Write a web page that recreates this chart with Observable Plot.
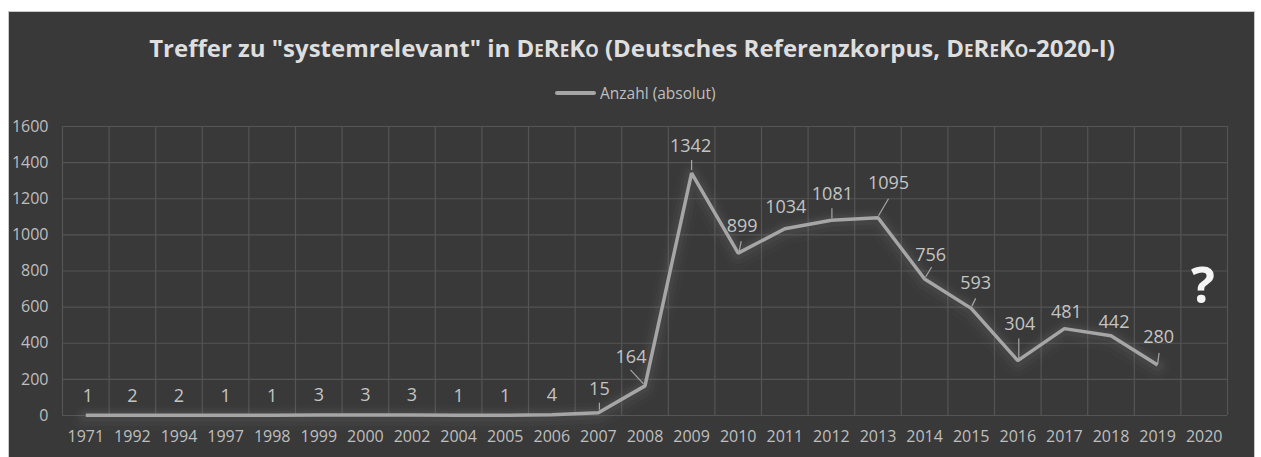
<!DOCTYPE html>
<html>
<head>
<meta charset="utf-8">
<script src="https://cdn.jsdelivr.net/npm/d3@7"></script>
<script src="https://cdn.jsdelivr.net/npm/@observablehq/plot@0.6"></script>
<style>
  html, body { margin: 0; padding: 0; background: #ffffff; }
  #wrap { position: relative; width: 1261px; height: 457px; overflow: hidden; background: #ffffff; font-family: "Open Sans", sans-serif; }
  #panel { position: absolute; left: 8px; top: 11px; width: 1247px; height: 470px; background: #393939; border: 1px solid #c9c9c9; box-sizing: border-box; }
  #title { position: absolute; left: 0; top: 31px; width: 1264px; text-align: center; font-size: 24px; font-weight: 700; color: #dedede; white-space: nowrap; }
  #title .sc { font-variant: small-caps; }
  #legend { position: absolute; left: 555px; top: 83px; height: 20px; display: flex; align-items: center; font-size: 15.5px; color: #bfbfbf; }
  #legend .swatch { width: 41px; height: 4px; background: #a6a6a6; border-radius: 2px; margin-right: 4px; }
  #q { position: absolute; left: 1191px; top: 259px; font-size: 50px; font-weight: 700; color: #f4f4f4; line-height: 1; }
  #chart { position: absolute; left: 0; top: 0; }
</style>
</head>
<body>
<div id="wrap">
  <div id="panel"></div>
  <div id="chart"></div>
  <div id="title">Treffer zu "systemrelevant" in <span class="sc">DeReKo</span> (Deutsches Referenzkorpus, <span class="sc">DeReKo</span>-2020-I)</div>
  <div id="legend"><div class="swatch"></div><span>Anzahl (absolut)</span></div>
  <div id="q">?</div>
</div>
<script>
// ---- data ----
const years = ["1971","1992","1994","1997","1998","1999","2000","2002","2004","2005","2006","2007","2008","2009","2010","2011","2012","2013","2014","2015","2016","2017","2018","2019","2020"];
const counts = [1,2,2,1,1,3,3,3,1,1,4,15,164,1342,899,1034,1081,1095,756,593,304,481,442,280,null];
const yTicks = [0,200,400,600,800,1000,1200,1400,1600];
const seriesName = "Anzahl (absolut)";

// ---- label layout (pixel offsets of each data label from its point: [dx, up]) ----
const labelOffset = [
  [2,19],[0,19],[0,19],[0,19],[0,19],[0,20],[0,20],[0,20],[0,19],[0,19],[0,20],[1,24],
  [-14,29],[-1,27],[4,27],[1,21],[1,26],[10.5,34],[6,24],[4.5,25],[2,36],[2,16],[3,13],[1,28]
];
// leader lines: [index, dx1, up1, dx2, up2] in pixels relative to the point
const leaders = [
  [11,1,3,1,10],[12,-1.5,2,-14.5,16],[13,0,3,0,13],[14,1,2,3,12],[16,0.5,2,0.5,12],
  [17,0.5,2,10.5,19],[18,1,2,7,12],[19,0.5,2,4.5,10],[20,1,2,1,22],[23,0,1,1.5,12]
];

// ---- geometry ----
const W = 1261, H = 457;
const mL = 62, mR = 34, mT = 126, mB = 42;
const pxPerX = (W - mL - mR) / years.length;
const pxPerY = (H - mT - mB) / 1600;
const ux = px => px / pxPerX;
const uy = px => px / pxPerY;

const pts = counts.map((v, i) => ({i, year: years[i], v})).filter(d => d.v != null);
const labels = pts.map(d => ({
  i: d.i + ux(labelOffset[d.i][0]),
  y: d.v + uy(labelOffset[d.i][1]),
  text: String(d.v)
}));
const leaderData = leaders.map(([i, dx1, u1, dx2, u2]) => ({
  x1: i + ux(dx1), y1: counts[i] + uy(u1), x2: i + ux(dx2), y2: counts[i] + uy(u2)
}));
const vGrid = d3.range(years.length + 1).map(k => k - 0.5);

const grid = "#555555";
const chart = Plot.plot({
  width: W, height: H,
  marginLeft: mL, marginRight: mR, marginTop: mT, marginBottom: mB,
  style: { background: "transparent", color: "#bfbfbf", fontFamily: "Open Sans, sans-serif", fontSize: "16px", overflow: "visible" },
  x: { type: "linear", domain: [-0.5, years.length - 0.5], ticks: d3.range(years.length), tickFormat: i => years[i], tickSize: 0, tickPadding: 15, label: null },
  y: { domain: [0, 1600], ticks: yTicks, tickFormat: d => String(d), tickSize: 0, tickPadding: 14, label: null },
  marks: [
    Plot.ruleY(yTicks, { stroke: grid, strokeWidth: 1.2 }),
    Plot.ruleX(vGrid, { y1: 0, y2: 1600, stroke: grid, strokeWidth: 1.2 }),
    // glow
    Plot.line(pts, { x: "i", y: "v", stroke: "#8a8a8a", strokeWidth: 26, strokeOpacity: 0.035, dy: 3, strokeLinejoin: "round", strokeLinecap: "round" }),
    Plot.line(pts, { x: "i", y: "v", stroke: "#8a8a8a", strokeWidth: 18, strokeOpacity: 0.05, dy: 2, strokeLinejoin: "round", strokeLinecap: "round" }),
    Plot.line(pts, { x: "i", y: "v", stroke: "#8a8a8a", strokeWidth: 11, strokeOpacity: 0.07, dy: 1, strokeLinejoin: "round", strokeLinecap: "round" }),
    // series
    Plot.line(pts, { x: "i", y: "v", stroke: "#a6a6a6", strokeWidth: 3.5, strokeLinejoin: "miter", strokeLinecap: "butt" }),
    Plot.link(leaderData, { x1: "x1", y1: "y1", x2: "x2", y2: "y2", stroke: "#a6a6a6", strokeWidth: 1.2 }),
    Plot.text(labels, { x: "i", y: "y", text: "text", fill: "#c4c4c4", fontSize: 18, textAnchor: "middle", lineAnchor: "middle" })
  ]
});
document.getElementById("chart").appendChild(chart);
</script>
</body>
</html>
